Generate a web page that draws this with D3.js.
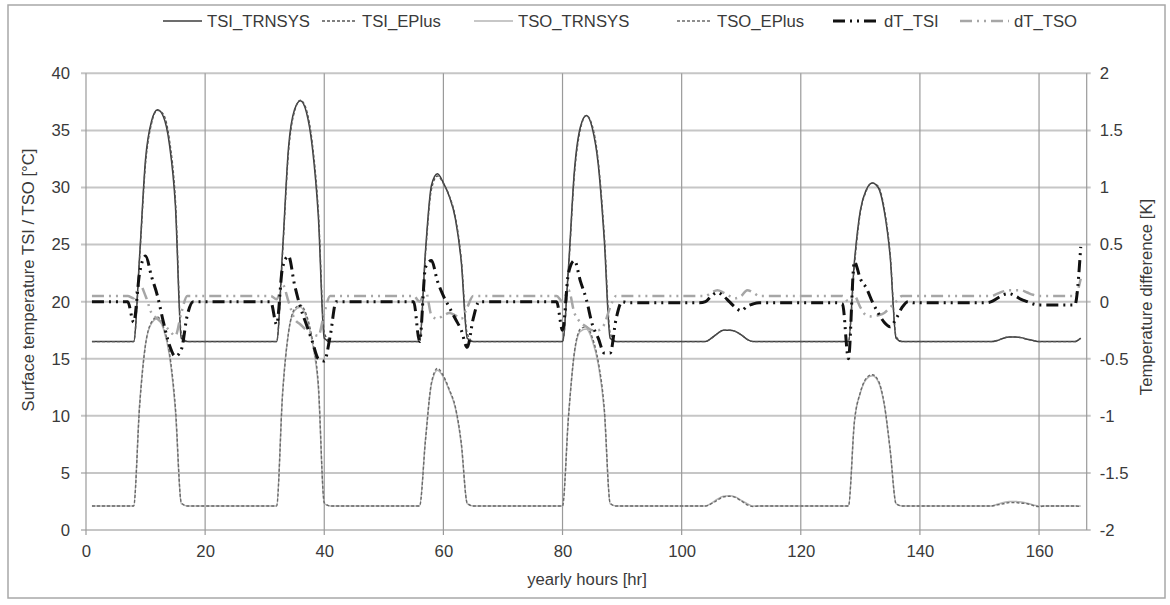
<!DOCTYPE html>
<html>
<head>
<meta charset="utf-8">
<script src="https://cdn.jsdelivr.net/npm/d3@7"></script>
<style>
body { margin: 0; background: #fff; }
text { font-family: "Liberation Sans", Arial, sans-serif; fill: #3a3a3a; }
</style>
</head>
<body>
<script>
// hourly values, one line per day (hour 1..167)
var hours = d3.range(1, 168);

var tsiTrnsys = [
16.5,16.5,16.5,16.5,16.5,16.5,16.5,16.5,24,32.5,35.8,36.8,36.2,33.8,28.5,16.8,16.5,16.5,16.5,16.5,16.5,16.5,16.5,16.5,
16.5,16.5,16.5,16.5,16.5,16.5,16.5,16.5,24.5,33.5,36.8,37.6,36.6,33.5,27.5,16.8,16.5,16.5,16.5,16.5,16.5,16.5,16.5,16.5,
16.5,16.5,16.5,16.5,16.5,16.5,16.5,16.5,24.5,30.2,31.2,30.4,29.2,27.3,23.5,16.8,16.5,16.5,16.5,16.5,16.5,16.5,16.5,16.5,
16.5,16.5,16.5,16.5,16.5,16.5,16.5,16.5,23,31.5,35.3,36.3,35.2,32,25.5,16.8,16.5,16.5,16.5,16.5,16.5,16.5,16.5,16.5,
16.5,16.5,16.5,16.5,16.5,16.5,16.5,16.5,16.8,17.2,17.5,17.5,17.4,17.1,16.7,16.5,16.5,16.5,16.5,16.5,16.5,16.5,16.5,16.5,
16.5,16.5,16.5,16.5,16.5,16.5,16.5,16.5,23.5,28,29.8,30.4,30,28,24,16.8,16.5,16.5,16.5,16.5,16.5,16.5,16.5,16.5,
16.5,16.5,16.5,16.5,16.5,16.5,16.5,16.5,16.6,16.8,16.9,16.9,16.85,16.7,16.6,16.5,16.5,16.5,16.5,16.5,16.5,16.5,16.8];

var tsiEplus = [
16.5,16.5,16.5,16.5,16.5,16.5,16.5,16.5,23.8,32.1,35.6,36.75,36.4,34.2,29,17.2,16.5,16.5,16.5,16.5,16.5,16.5,16.5,16.5,
16.5,16.5,16.5,16.5,16.5,16.5,16.5,16.5,24.2,33.1,36.65,37.65,36.8,33.85,28,17.3,16.5,16.5,16.5,16.5,16.5,16.5,16.5,16.5,
16.5,16.5,16.5,16.5,16.5,16.5,16.5,16.5,24.2,29.85,31,30.35,29.25,27.45,23.75,17.2,16.5,16.5,16.5,16.5,16.5,16.5,16.5,16.5,
16.5,16.5,16.5,16.5,16.5,16.5,16.5,16.5,22.75,31.15,35.1,36.3,35.4,32.3,25.95,17.25,16.5,16.5,16.5,16.5,16.5,16.5,16.5,16.5,
16.5,16.5,16.5,16.5,16.5,16.5,16.5,16.5,16.8,17.2,17.5,17.5,17.4,17.1,16.7,16.5,16.5,16.5,16.5,16.5,16.5,16.5,16.5,16.5,
16.5,16.5,16.5,16.5,16.5,16.5,16.5,16.5,23.15,27.8,29.7,30.4,30.1,28.2,24.2,16.95,16.5,16.5,16.5,16.5,16.5,16.5,16.5,16.5,
16.5,16.5,16.5,16.5,16.5,16.5,16.5,16.5,16.6,16.8,16.9,16.9,16.85,16.7,16.6,16.5,16.5,16.5,16.5,16.5,16.5,16.5,16.8];

var tsoTrnsys = [
2.1,2.1,2.1,2.1,2.1,2.1,2.1,2.1,11,16.3,18.1,18.5,17.6,15.3,10.5,2.3,2.1,2.1,2.1,2.1,2.1,2.1,2.1,2.1,
2.1,2.1,2.1,2.1,2.1,2.1,2.1,2.1,12,17.3,19.2,19.5,18.6,16.4,12.5,2.3,2.1,2.1,2.1,2.1,2.1,2.1,2.1,2.1,
2.1,2.1,2.1,2.1,2.1,2.1,2.1,2.1,8,12.8,14,13.4,12.2,10.7,7.5,2.3,2.1,2.1,2.1,2.1,2.1,2.1,2.1,2.1,
2.1,2.1,2.1,2.1,2.1,2.1,2.1,2.1,10,15.5,17.4,17.6,16.6,14.5,10.5,2.3,2.1,2.1,2.1,2.1,2.1,2.1,2.1,2.1,
2.1,2.1,2.1,2.1,2.1,2.1,2.1,2.1,2.35,2.7,2.95,3,2.9,2.6,2.3,2.1,2.1,2.1,2.1,2.1,2.1,2.1,2.1,2.1,
2.1,2.1,2.1,2.1,2.1,2.1,2.1,2.1,9.5,12,13.2,13.5,13,11,7,2.3,2.1,2.1,2.1,2.1,2.1,2.1,2.1,2.1,
2.1,2.1,2.1,2.1,2.1,2.1,2.1,2.1,2.25,2.4,2.5,2.5,2.45,2.35,2.2,2.1,2.1,2.1,2.1,2.1,2.1,2.1,2.1];

var tsoEplus = [
2.1,2.1,2.1,2.1,2.1,2.1,2.1,2.1,10.85,16.25,18.2,18.65,17.8,15.55,10.8,2.4,2.1,2.1,2.1,2.1,2.1,2.1,2.1,2.1,
2.1,2.1,2.1,2.1,2.1,2.1,2.1,2.1,11.85,17.3,19.35,19.7,18.85,16.7,12.8,2.4,2.1,2.1,2.1,2.1,2.1,2.1,2.1,2.1,
2.1,2.1,2.1,2.1,2.1,2.1,2.1,2.1,7.9,12.9,14.15,13.5,12.3,10.8,7.65,2.35,2.1,2.1,2.1,2.1,2.1,2.1,2.1,2.1,
2.1,2.1,2.1,2.1,2.1,2.1,2.1,2.1,9.9,15.6,17.6,17.8,16.85,14.75,10.7,2.35,2.1,2.1,2.1,2.1,2.1,2.1,2.1,2.1,
2.1,2.1,2.1,2.1,2.1,2.1,2.1,2.1,2.3,2.6,2.9,2.95,2.85,2.55,2.2,2.05,2.1,2.1,2.1,2.1,2.1,2.1,2.1,2.1,
2.1,2.1,2.1,2.1,2.1,2.1,2.1,2.1,9.45,12.05,13.3,13.6,13.1,11.1,7.05,2.3,2.1,2.1,2.1,2.1,2.1,2.1,2.1,2.1,
2.1,2.1,2.1,2.1,2.1,2.1,2.1,2.1,2.2,2.3,2.4,2.4,2.35,2.3,2.15,2.05,2.1,2.1,2.1,2.1,2.1,2.1,2.05];

var dtTsi = [
0,0,0,0,0,0,0,-0.18,0.25,0.4,0.22,0.05,-0.18,-0.38,-0.48,-0.42,-0.12,0,0,0,0,0,0,0,
0,0,0,0,0,0,0,-0.2,0.3,0.4,0.15,-0.05,-0.2,-0.35,-0.5,-0.52,-0.3,0,0,0,0,0,0,0,
0,0,0,0,0,0,0,-0.35,0.3,0.36,0.18,0.05,-0.05,-0.15,-0.25,-0.4,-0.15,0,0,0,0,0,0,0,
0,0,0,0,0,0,0,-0.25,0.25,0.36,0.18,0.02,-0.2,-0.32,-0.45,-0.45,-0.15,0,-0.01,-0.01,-0.01,-0.01,-0.01,-0.01,
-0.01,-0.01,-0.01,-0.01,-0.01,-0.01,-0.01,0,0.05,0.08,0.05,0,-0.05,-0.08,-0.04,-0.02,-0.01,-0.01,-0.01,-0.01,-0.01,-0.01,-0.01,-0.01,
-0.01,-0.01,-0.01,-0.01,-0.01,-0.01,-0.02,-0.5,0.35,0.2,0.12,0,-0.1,-0.18,-0.22,-0.15,-0.05,0,-0.01,-0.01,-0.01,-0.01,-0.01,-0.01,
-0.01,-0.01,-0.01,-0.01,-0.01,-0.01,-0.01,0,0.03,0.06,0.07,0.05,0.02,0,-0.02,-0.03,-0.03,-0.03,-0.03,-0.03,-0.03,-0.03,0.48];

var dtTso = [
0.05,0.05,0.05,0.05,0.05,0.05,0.05,0.03,0.15,0.05,-0.1,-0.15,-0.2,-0.25,-0.3,-0.1,0.05,0.05,0.05,0.05,0.05,0.05,0.05,0.05,
0.05,0.05,0.05,0.05,0.05,0.05,0.05,0.02,0.15,0,-0.15,-0.2,-0.25,-0.28,-0.3,-0.1,0.05,0.05,0.05,0.05,0.05,0.05,0.05,0.05,
0.05,0.05,0.05,0.05,0.05,0.05,0.05,0,0.1,-0.12,-0.15,-0.12,-0.1,-0.12,-0.15,-0.05,0.05,0.05,0.05,0.05,0.05,0.05,0.05,0.05,
0.05,0.05,0.05,0.05,0.05,0.05,0.05,0,0.1,-0.1,-0.18,-0.22,-0.25,-0.25,-0.2,-0.05,0.05,0.05,0.05,0.05,0.05,0.05,0.05,0.05,
0.05,0.05,0.05,0.05,0.05,0.05,0.05,0.05,0.08,0.1,0.08,0.05,0.03,0.05,0.1,0.08,0.05,0.05,0.05,0.05,0.05,0.05,0.05,0.05,
0.05,0.05,0.05,0.05,0.05,0.05,0.05,0,0.05,-0.05,-0.12,-0.13,-0.12,-0.1,-0.05,0,0.05,0.05,0.05,0.05,0.05,0.05,0.05,0.05,
0.05,0.05,0.05,0.05,0.05,0.05,0.05,0.05,0.07,0.09,0.1,0.1,0.1,0.08,0.06,0.05,0.05,0.05,0.05,0.05,0.05,0.05,0.2];

var xTicks = [0, 20, 40, 60, 80, 100, 120, 140, 160];
var yLeftTicks = [0, 5, 10, 15, 20, 25, 30, 35, 40];
var yRightTicks = [-2, -1.5, -1, -0.5, 0, 0.5, 1, 1.5, 2];

var W = 1170, H = 605;
var plotL = 86, plotR = 1086.7, plotT = 73.3, plotB = 530;

var svg = d3.select("body").append("svg")
    .attr("width", W)
    .attr("height", H);

svg.append("rect")
    .attr("x", 8).attr("y", 5)
    .attr("width", 1157).attr("height", 593)
    .attr("fill", "#fff")
    .attr("stroke", "#a8a8a8")
    .attr("stroke-width", 1.5);

var x = d3.scaleLinear().domain([0, 168]).range([plotL, plotR]);
var yL = d3.scaleLinear().domain([0, 40]).range([plotB, plotT]);
var yR = d3.scaleLinear().domain([-2, 2]).range([plotB, plotT]);

// gridlines
svg.selectAll(".hgrid")
    .data(yLeftTicks)
  .enter().append("line")
    .attr("x1", plotL - 5)
    .attr("x2", plotR + 4)
    .attr("y1", function(d){ return yL(d); })
    .attr("y2", function(d){ return yL(d); })
    .attr("stroke", "#c6c6c6")
    .attr("stroke-width", 2);

svg.selectAll(".vgrid")
    .data(xTicks)
  .enter().append("line")
    .attr("x1", function(d){ return x(d); })
    .attr("x2", function(d){ return x(d); })
    .attr("y1", plotT)
    .attr("y2", plotB + 5)
    .attr("stroke", "#9a9a9a")
    .attr("stroke-width", 1.2);

svg.append("line")
    .attr("x1", plotR).attr("x2", plotR)
    .attr("y1", plotT).attr("y2", plotB)
    .attr("stroke", "#9a9a9a")
    .attr("stroke-width", 1.2);

// axis labels
var fs = "16.7px";
var ax = svg.append("g").attr("transform", "translate(0," + plotB + ")")
    .call(d3.axisBottom(x).tickValues(xTicks).tickSize(5).tickPadding(10));
var ayl = svg.append("g").attr("transform", "translate(" + plotL + ",0)")
    .call(d3.axisLeft(yL).tickValues(yLeftTicks).tickSize(5).tickPadding(11));
var ayr = svg.append("g").attr("transform", "translate(" + plotR + ",0)")
    .call(d3.axisRight(yR).tickValues(yRightTicks).tickSize(4).tickPadding(9)
      .tickFormat(function(d){ return String(d); }));
[ax, ayl, ayr].forEach(function(g){
  g.select(".domain").remove();
  g.selectAll("line").remove();
  g.selectAll("text").attr("font-size", fs).attr("fill", "#3a3a3a")
    .style("font-family", "'Liberation Sans', Arial, sans-serif");
});

svg.append("text")
    .attr("x", 587).attr("y", 585)
    .attr("text-anchor", "middle")
    .attr("font-size", fs)
    .text("yearly hours [hr]");

svg.append("text")
    .attr("transform", "translate(34,280) rotate(-90)")
    .attr("text-anchor", "middle")
    .attr("font-size", fs)
    .text("Surface temperature TSI / TSO [°C]");

svg.append("text")
    .attr("transform", "translate(1152,297) rotate(-90)")
    .attr("text-anchor", "middle")
    .attr("font-size", fs)
    .text("Temperature difference [K]");

// series
var series = [
  { name: "TSO_TRNSYS", values: tsoTrnsys, axis: yL, color: "#b4b4b4", width: 1.5, dash: null },
  { name: "TSO_EPlus",  values: tsoEplus,  axis: yL, color: "#6a6a6a", width: 1.4, dash: "3,2" },
  { name: "TSI_TRNSYS", values: tsiTrnsys, axis: yL, color: "#3c3c3c", width: 1.5, dash: null },
  { name: "TSI_EPlus",  values: tsiEplus,  axis: yL, color: "#555", width: 1.4, dash: "3,2" },
  { name: "dT_TSO",     values: dtTso,     axis: yR, color: "#a6a6a6", width: 2.5, dash: "12,5,2,5,2,5" },
  { name: "dT_TSI",     values: dtTsi,     axis: yR, color: "#111", width: 3, dash: "12,5,2,5,2,5" }
];

series.forEach(function(s){
  var line = d3.line()
      .x(function(d, i){ return x(hours[i]); })
      .y(function(d){ return s.axis(d); })
      .curve(d3.curveMonotoneX);
  svg.append("path")
      .datum(s.values)
      .attr("d", line)
      .attr("fill", "none")
      .attr("stroke", s.color)
      .attr("stroke-width", s.width)
      .attr("stroke-dasharray", s.dash);
});

// legend
var legendOrder = ["TSI_TRNSYS", "TSI_EPlus", "TSO_TRNSYS", "TSO_EPlus", "dT_TSI", "dT_TSO"];
var legendSample = [163, 322, 474, 677, 833, 960];
var legendText = [207, 362, 518, 717, 884, 1014];
var legendY = 21;
legendOrder.forEach(function(n, i){
  var s = series.filter(function(d){ return d.name === n; })[0];
  svg.append("line")
      .attr("x1", legendSample[i]).attr("x2", legendText[i] - 5)
      .attr("y1", legendY).attr("y2", legendY)
      .attr("stroke", s.color)
      .attr("stroke-width", s.width)
      .attr("stroke-dasharray", s.dash);
  svg.append("text")
      .attr("x", legendText[i]).attr("y", legendY + 6)
      .attr("font-size", fs)
      .text(n);
});
</script>
</body>
</html>
